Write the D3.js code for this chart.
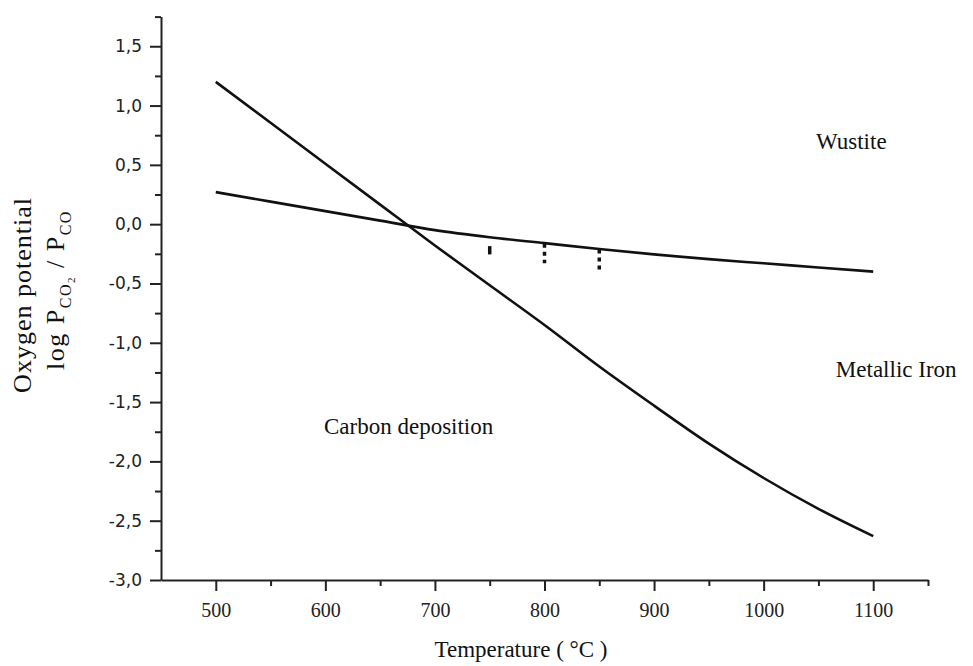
<!DOCTYPE html>
<html>
<head>
<meta charset="utf-8">
<script src="https://cdn.jsdelivr.net/npm/d3@7"></script>
<style>
  body { margin: 0; background: #fff; }
  svg { display: block; }
</style>
</head>
<body>
<div id="container"></div>
<script>
/* DATA */
const temps = [500, 550, 600, 650, 700, 750, 800, 850, 900, 950, 1000, 1050, 1100];
const carbonLine = [1.20, 0.855, 0.51, 0.165, -0.18, -0.515, -0.85, -1.20, -1.53, -1.85, -2.14, -2.40, -2.63];
const wustiteLine = [0.27, 0.19, 0.11, 0.03, -0.05, -0.11, -0.16, -0.21, -0.255, -0.295, -0.33, -0.365, -0.40];

// measured points below the wustite line
const markTemps = [750, 800, 850];
const markTop = [-0.185, -0.166, -0.213];
const markBottom = [-0.255, -0.33, -0.397];

const xTicks = [500, 600, 700, 800, 900, 1000, 1100];
const xMinorTicks = [550, 650, 750, 850, 950, 1050, 1150];
const yTicks = [-3.0, -2.5, -2.0, -1.5, -1.0, -0.5, 0.0, 0.5, 1.0, 1.5];
const yMinorTicks = [-2.75, -2.25, -1.75, -1.25, -0.75, -0.25, 0.25, 0.75, 1.25, 1.75];

const regionLabels = ["Wustite", "Metallic Iron", "Carbon deposition"];
const regionTemps = [1080, 1121, 676];
const regionValues = [0.70, -1.22, -1.70];

/* CONSTANTS AND GLOBALS */
const width = 973,
  height = 666,
  margin = { top: 16.6, bottom: 86, left: 161, right: 45 };

const serif = "'Liberation Serif', 'Times New Roman', serif";

const svg = d3.select("#container")
  .append("svg")
  .attr("width", width)
  .attr("height", height);

// SCALES
const xScale = d3.scaleLinear()
  .domain([450, 1150])
  .range([margin.left, width - margin.right]);

const yScale = d3.scaleLinear()
  .domain([-3, 1.75])
  .range([height - margin.bottom, margin.top]);

const locale = d3.formatLocale({ decimal: ",", thousands: "", grouping: [3], currency: ["", ""], minus: "-" });
const yFormat = locale.format(".1f");

// MINOR TICKS FIRST
svg.append("g")
  .attr("transform", `translate(0, ${height - margin.bottom})`)
  .call(d3.axisBottom(xScale).tickValues(xMinorTicks).tickSize(6).tickFormat(""))
  .call(g => g.select(".domain").remove())
  .call(g => g.selectAll("line").attr("stroke", "#222").attr("stroke-width", 2));

svg.append("g")
  .attr("transform", `translate(${margin.left}, 0)`)
  .call(d3.axisLeft(yScale).tickValues(yMinorTicks).tickSize(6).tickFormat(""))
  .call(g => g.select(".domain").remove())
  .call(g => g.selectAll("line").attr("stroke", "#222").attr("stroke-width", 2));

// X AXIS
svg.append("g")
  .attr("transform", `translate(0, ${height - margin.bottom})`)
  .call(d3.axisBottom(xScale).tickValues(xTicks).tickSize(11).tickSizeOuter(0).tickPadding(12).tickFormat(d3.format("d")))
  .call(g => g.select(".domain").attr("stroke", "#222").attr("stroke-width", 2))
  .call(g => g.selectAll("line").attr("stroke", "#222").attr("stroke-width", 2))
  .call(g => g.selectAll("text")
    .attr("fill", "#222")
    .style("font-family", serif)
    .style("font-size", "20px"));

// Y AXIS
svg.append("g")
  .attr("transform", `translate(${margin.left}, 0)`)
  .call(d3.axisLeft(yScale).tickValues(yTicks).tickSize(11).tickSizeOuter(0).tickPadding(8).tickFormat(yFormat))
  .call(g => g.select(".domain").attr("stroke", "#222").attr("stroke-width", 2))
  .call(g => g.selectAll("line").attr("stroke", "#222").attr("stroke-width", 2))
  .call(g => g.selectAll("text")
    .attr("fill", "#222")
    .style("font-family", "'DejaVu Sans', sans-serif")
    .style("font-size", "17px"));

// AXIS TITLES
svg.append("text")
  .attr("x", 521)
  .attr("y", 657)
  .attr("text-anchor", "middle")
  .style("font-family", serif)
  .style("font-size", "23px")
  .style("fill", "#111")
  .text("Temperature ( °C )");

const yTitle = svg.append("g")
  .attr("transform", "translate(0, 295) rotate(-90)")
  .style("font-family", serif)
  .style("fill", "#111");

yTitle.append("text")
  .attr("x", 0)
  .attr("y", 31)
  .attr("text-anchor", "middle")
  .style("font-size", "26px")
  .style("letter-spacing", "1px")
  .text("Oxygen potential");

const line2 = yTitle.append("text")
  .attr("x", 5)
  .attr("y", 64)
  .attr("text-anchor", "middle")
  .style("font-size", "26px")
  .style("letter-spacing", "1.5px");
line2.append("tspan").text("log P");
line2.append("tspan").attr("dy", 7).style("font-size", "16px").text("CO");
line2.append("tspan").attr("dy", 4).style("font-size", "11px").text("2");
line2.append("tspan").attr("dy", -11).text(" / P");
line2.append("tspan").attr("dy", 7).style("font-size", "16px").text("CO");

// LINES
const lineGen = d3.line()
  .x(d => xScale(d[0]))
  .y(d => yScale(d[1]))
  .curve(d3.curveMonotoneX);

svg.selectAll("path.phase-line")
  .data([d3.zip(temps, carbonLine), d3.zip(temps, wustiteLine)])
  .join("path")
  .attr("class", "phase-line")
  .attr("d", lineGen)
  .attr("fill", "none")
  .attr("stroke", "#111")
  .attr("stroke-width", 2.6);

// DOTTED MARKS
svg.selectAll("line.mark")
  .data(d3.zip(markTemps, markTop, markBottom))
  .join("line")
  .attr("class", "mark")
  .attr("x1", d => xScale(d[0]))
  .attr("x2", d => xScale(d[0]))
  .attr("y1", d => yScale(d[1]))
  .attr("y2", d => yScale(d[2]))
  .attr("stroke", "#111")
  .attr("stroke-width", 3.5)
  .attr("stroke-dasharray", (d, i) => i === 0 ? null : "4,4");

// REGION LABELS
svg.selectAll("text.region")
  .data(d3.zip(regionLabels, regionTemps, regionValues))
  .join("text")
  .attr("class", "region")
  .attr("x", d => xScale(d[1]))
  .attr("y", d => yScale(d[2]))
  .attr("text-anchor", "middle")
  .attr("dy", "0.35em")
  .style("font-family", serif)
  .style("font-size", "23px")
  .style("fill", "#111")
  .text(d => d[0]);
</script>
</body>
</html>
